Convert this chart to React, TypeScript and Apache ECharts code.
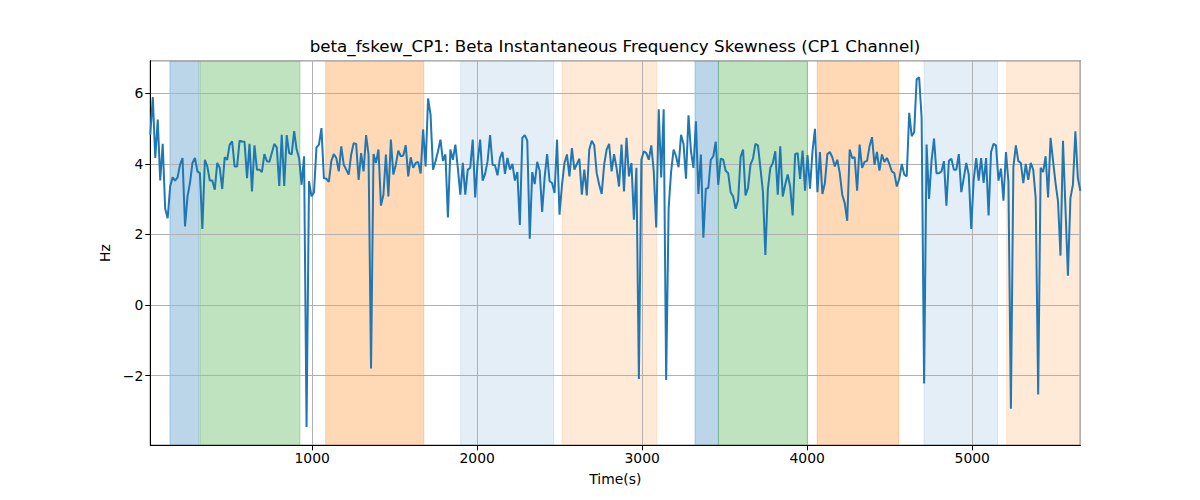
import React, { useEffect, useRef } from 'react';
import * as echarts from 'echarts';

// skewness values (Hz), sampled every ~15 s from t = 19 s
const skewValues: number[] = [
  4.83, 5.9, 4.17, 5.26, 3.53, 4.57, 2.73, 2.46, 3.36, 3.62,
  3.53, 3.62, 3.98, 4.17, 2.23, 3.08, 3.46, 4.03, 4.17, 3.79,
  3.74, 2.16, 4.12, 3.93, 3.53, 3.53, 3.27, 4.03, 3.89, 3.29,
  4.19, 4.12, 4.55, 4.64, 3.93, 3.93, 4.66, 4.64, 4.63, 3.6,
  4.57, 3.22, 4.53, 3.84, 3.84, 3.77, 4.28, 4.08, 4.06, 4.31,
  4.57, 4.47, 3.38, 4.83, 3.38, 4.82, 4.31, 4.27, 4.93, 4.41,
  4.17, 3.41, 4.22, -3.46,
  3.51, 3.08, 3.2, 4.47, 4.55, 5.02, 3.6, 3.58, 3.49, 4.09,
  4.28, 4.17, 3.79, 4.5, 3.98, 3.84, 3.7, 4.27, 4.59, 4.57,
  3.55, 4.31, 3.79, 4.82, 4.27, -1.8, 4.28, 4.03, 4.41, 2.82,
  3.13, 4.27, 3.08, 4.69, 3.7, 3.98, 4.38, 4.22, 4.24, 4.53,
  3.65, 4.19, 3.89, 4.03, 4.06, 3.73, 4.98, 3.93, 5.86, 5.4,
  3.84, 4.08, 4.36, 4.69, 4.09, 4.27, 2.48, 4.41, 4.12, 4.55,
  3.89, 3.13, 4.03, 3.13, 3.84,
  3.89, 4.69, 3.05, 4.08, 4.69, 3.53, 3.72, 4.08, 4.82, 3.98,
  3.96, 3.68, 4.17, 4.34, 3.72, 4.17, 3.84, 4.0, 3.53, 3.77,
  2.27, 4.74, 4.82, 4.66, 1.88, 3.77, 3.43, 4.06, 3.81, 2.64,
  3.62, 4.28, 3.51, 3.46, 3.18, 4.69, 2.56, 3.41, 4.03, 4.27,
  3.65, 4.45, 3.84, 4.0, 4.15, 3.13, 3.84, 3.11, 4.41, 4.66,
  4.53, 3.74, 3.41, 3.15, 3.98, 4.41, 4.57, 3.79, 4.28, 3.89,
  3.36, 4.55, 3.22, 4.74, 3.65,
  4.03, 2.42, 3.89, -2.1, 4.12, 4.36, 4.31, 4.12, 4.53, 3.79,
  2.2, 5.55, 3.62, 5.55, -2.13, 2.75, 3.79, 4.41, 4.22, 3.91,
  4.83, 4.57, 3.58, 5.38, 4.36, 3.89, 5.21, 3.15, 4.27, 1.91,
  3.3, 3.32, 4.12, 4.22, 4.63, 3.41, 4.15, 4.12, 3.81, 3.74,
  3.2, 3.08, 2.73, 2.96, 4.19, 4.41, 3.11, 3.32, 3.98, 4.15,
  4.57, 4.53, 3.89, 3.22, 1.42, 3.27, 3.89, 4.03, 4.36, 3.13,
  4.5, 3.08, 3.41, 3.7, 3.36,
  2.54, 4.28, 4.31, 3.58, 4.38, 3.24, 4.25, 3.3, 4.36, 5.0,
  3.2, 4.34, 3.15, 3.46, 4.28, 4.34, 4.19, 3.93, 4.12, 3.74,
  3.13, 2.89, 2.39, 4.41, 4.17, 4.19, 3.24, 4.55, 3.89, 4.06,
  4.09, 4.5, 4.76, 3.98, 4.34, 3.81, 4.27, 4.06, 4.17, 4.0,
  3.79, 3.74, 3.36, 3.58, 4.0, 3.7, 3.65, 5.45, 4.79, 4.91,
  6.4, 6.46, 5.31, -2.23, 4.55, 3.01, 4.09, 4.72, 3.74, 3.74,
  3.79, 4.08, 2.82, 4.09,
  4.15, 3.84, 3.84, 4.28, 3.2, 3.6, 4.03, 3.7, 2.16, 3.55,
  4.17, 3.53, 4.17, 3.46, 4.17, 2.54, 4.34, 4.57, 4.53, 3.53,
  3.87, 2.96, 4.34, 3.51, -2.94, 3.91, 4.53, 4.08, 4.03, 3.46,
  4.0, 3.55, 4.03, 3.84, 3.03, -2.54, 3.89, 3.77, 4.22, 3.05,
  4.74, 4.09, 3.46, 2.94, 1.4, 4.66, 2.75, 0.83, 3.03, 3.41,
  4.93, 3.6, 3.24,
];

const T_START = 19;
const T_STEP = 15.03;

// shaded phases (seconds)
const spanStarts = [138, 321, 1082, 1900, 2514, 3320, 3462, 4061, 4708, 5209];
const spanEnds = [315, 926, 1676, 2464, 3088, 3462, 4001, 4554, 5154, 5655];
const spanKinds = [0, 1, 2, 3, 4, 0, 1, 2, 3, 4];

const X_MIN = 19;
const X_MAX = 5655;
const Y_MIN = -3.98;
const Y_MAX = 6.93;

const kindColors = [
  'rgba(31,119,180,0.3)',
  'rgba(44,160,44,0.3)',
  'rgba(255,127,14,0.3)',
  'rgba(31,119,180,0.12)',
  'rgba(255,127,14,0.16)',
];

const FONT = "'DejaVu Sans', sans-serif";

const App: React.FC = () => {
  const chartRef = useRef<HTMLDivElement>(null);

  useEffect(() => {
    document.body.style.margin = '0';
    if (!chartRef.current) return;
    const chart = echarts.init(chartRef.current, null, { renderer: 'svg' });

    const lineData = skewValues.map((v, i) => [T_START + i * T_STEP, v]);
    const spanData = spanStarts.map((s, i) => [s, spanEnds[i], spanKinds[i]]);

    const minus = (v: number) => String(v).replace('-', '\u2212');

    chart.setOption({
      animation: false,
      title: {
        text: 'beta_fskew_CP1: Beta Instantaneous Frequency Skewness (CP1 Channel)',
        left: 615,
        top: 37,
        padding: 0,
        textAlign: 'center',
        textStyle: { fontFamily: FONT, fontSize: 16.7, fontWeight: 'normal', color: '#000' },
      },
      grid: {
        left: 150.3,
        right: 119.7,
        top: 60.7,
        bottom: 54.7,
        show: true,
        borderColor: '#000',
        borderWidth: 1,
        backgroundColor: 'transparent',
      },
      xAxis: {
        type: 'value',
        min: X_MIN,
        max: X_MAX,
        splitNumber: 5,
        z: 1,
        name: 'Time(s)',
        nameLocation: 'middle',
        nameGap: 27,
        nameTextStyle: { fontFamily: FONT, fontSize: 13.9, color: '#000' },
        axisLine: { show: true, onZero: false, lineStyle: { color: '#000', width: 1 } },
        axisTick: { show: true, inside: false, length: 5, lineStyle: { color: '#000' } },
        axisLabel: {
          fontFamily: FONT,
          fontSize: 13.9,
          color: '#000',
          margin: 6,
          showMinLabel: false,
          showMaxLabel: false,
          formatter: minus,
        },
        splitLine: { show: true, lineStyle: { color: '#b0b0b0', width: 1 } },
      },
      yAxis: {
        type: 'value',
        min: Y_MIN,
        max: Y_MAX,
        splitNumber: 5,
        z: 1,
        name: 'Hz',
        nameLocation: 'middle',
        nameGap: 36,
        nameTextStyle: { fontFamily: FONT, fontSize: 13.9, color: '#000' },
        axisLine: { show: true, onZero: false, lineStyle: { color: '#000', width: 1 } },
        axisTick: { show: true, inside: false, length: 5, lineStyle: { color: '#000' } },
        axisLabel: {
          fontFamily: FONT,
          fontSize: 13.9,
          color: '#000',
          margin: 7,
          showMinLabel: false,
          showMaxLabel: false,
          formatter: minus,
        },
        splitLine: { show: true, lineStyle: { color: '#b0b0b0', width: 1 } },
      },
      series: [
        {
          type: 'custom',
          z: 0,
          silent: true,
          clip: true,
          data: spanData,
          encode: { x: [0, 1] },
          renderItem: (_params: any, api: any) => {
            const p0 = api.coord([api.value(0), Y_MAX]);
            const p1 = api.coord([api.value(1), Y_MIN]);
            const c = kindColors[api.value(2)];
            return {
              type: 'rect',
              shape: { x: p0[0], y: p0[1], width: p1[0] - p0[0], height: p1[1] - p0[1] },
              style: { fill: c, stroke: c, lineWidth: 1 },
            };
          },
        },
        {
          type: 'line',
          z: 2,
          data: lineData,
          showSymbol: false,
          symbol: 'none',
          clip: true,
          lineStyle: { color: '#1f77b4', width: 2 },
          itemStyle: { color: '#1f77b4' },
        },
      ],
    });

    return () => {
      chart.dispose();
    };
  }, []);

  return <div ref={chartRef} style={{ width: '1200px', height: '500px' }}></div>;
};

export default App;
